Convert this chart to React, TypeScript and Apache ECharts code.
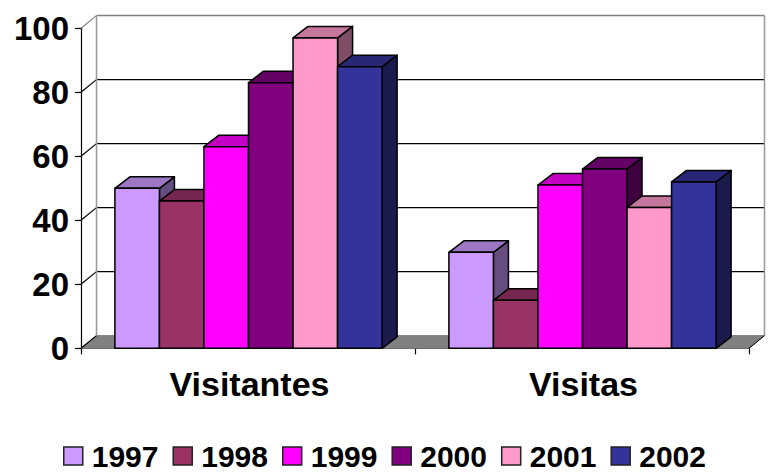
import React, { useEffect, useRef } from "react";
import * as echarts from "echarts";

const categories = ["Visitantes", "Visitas"];
const years = ["1997", "1998", "1999", "2000", "2001", "2002"];
const colors = ["#CC99FF", "#993366", "#FF00FF", "#800080", "#FF99CC", "#333399"];
const v1997 = [50, 30];
const v1998 = [46, 15];
const v1999 = [63, 51];
const v2000 = [83, 56];
const v2001 = [97, 44];
const v2002 = [88, 52];
const seriesValues = [v1997, v1998, v1999, v2000, v2001, v2002];
const yTicks = [0, 20, 40, 60, 80, 100];

const FONT = "'Liberation Sans', Arial, sans-serif";
const WALL_DX = 15.5;
const WALL_DY = 12.7;
const BAR_DX = 15;
const BAR_DY = 11.5;
const GROUP_RATIO = 0.8;

function shade(hex: string, k: number) {
  const n = parseInt(hex.slice(1), 16);
  const r = Math.round(((n >> 16) & 255) * k);
  const g = Math.round(((n >> 8) & 255) * k);
  const b = Math.round((n & 255) * k);
  return `rgb(${r},${g},${b})`;
}

function renderWalls(params: any, api: any) {
  const cs = params.coordSys;
  const xL = cs.x;
  const xR = cs.x + cs.width;
  const children: any[] = [];
  const y0 = api.coord([0, 0])[1];
  children.push({
    type: "polygon",
    shape: {
      points: [
        [xL, y0],
        [xL + WALL_DX, y0 - WALL_DY],
        [xR + WALL_DX, y0 - WALL_DY],
        [xR, y0],
      ],
    },
    style: { fill: "#808080", stroke: "#808080", lineWidth: 1 },
  });
  yTicks.forEach((t) => {
    const y = api.coord([0, t])[1];
    const color = t === 100 ? "#808080" : "#000000";
    if (t > 0) {
      children.push({
        type: "line",
        shape: { x1: xL + WALL_DX, y1: y - WALL_DY, x2: xR + WALL_DX, y2: y - WALL_DY },
        style: { stroke: color, lineWidth: t === 100 ? 1.5 : 1.2 },
      });
    }
    children.push({
      type: "line",
      shape: { x1: xL, y1: y, x2: xL + WALL_DX, y2: y - WALL_DY },
      style: { stroke: color, lineWidth: 1.2 },
    });
  });
  const yTop = api.coord([0, 100])[1] - WALL_DY;
  [xL + WALL_DX, xR + WALL_DX].forEach((x) => {
    children.push({
      type: "line",
      shape: { x1: x, y1: yTop, x2: x, y2: y0 - WALL_DY },
      style: { stroke: "#999999", lineWidth: 1.5 },
    });
  });
  children.push({
    type: "line",
    shape: { x1: xR, y1: y0, x2: xR + WALL_DX, y2: y0 - WALL_DY },
    style: { stroke: "#000000", lineWidth: 1 },
  });
  return { type: "group", children };
}

function makeRenderBar(index: number) {
  return function (params: any, api: any) {
    const cat = api.value(0);
    const val = api.value(1);
    const band = api.size([1, 0])[0];
    const w = (band * GROUP_RATIO) / years.length;
    const [cx, yTop] = api.coord([cat, val]);
    const yBase = api.coord([cat, 0])[1];
    const x = cx - (band * GROUP_RATIO) / 2 + index * w + 0.5;
    const base = colors[index];
    const edge = { stroke: "#000000", lineWidth: 1.5, lineJoin: "round" };
    return {
      type: "group",
      children: [
        {
          type: "polygon",
          shape: {
            points: [
              [x + w, yTop],
              [x + w + BAR_DX, yTop - BAR_DY],
              [x + w + BAR_DX, yBase - BAR_DY],
              [x + w, yBase],
            ],
          },
          style: { fill: shade(base, 0.5), ...edge },
        },
        {
          type: "polygon",
          shape: {
            points: [
              [x, yTop],
              [x + BAR_DX, yTop - BAR_DY],
              [x + w + BAR_DX, yTop - BAR_DY],
              [x + w, yTop],
            ],
          },
          style: { fill: shade(base, 0.77), ...edge },
        },
        {
          type: "rect",
          shape: { x, y: yTop, width: w, height: yBase - yTop },
          style: { fill: base, ...edge },
        },
      ],
    };
  };
}

export default function App() {
  const ref = useRef<HTMLDivElement>(null);
  useEffect(() => {
    const chart = echarts.init(ref.current!, undefined, { renderer: "svg" });
    const barSeries = years.map((year, i) => ({
      type: "custom",
      name: year,
      z: 3 + i,
      itemStyle: { color: colors[i] },
      encode: { x: 0, y: 1 },
      data: categories.map((_, c) => [c, seriesValues[i][c]]),
      renderItem: makeRenderBar(i),
    }));
    chart.setOption({
      animation: false,
      backgroundColor: "#ffffff",
      grid: { left: 81, top: 28.3, width: 668, height: 320, containLabel: false },
      legend: {
        data: years,
        left: 58,
        top: 436,
        itemGap: 14,
        itemWidth: 19,
        itemHeight: 18,
        icon: "rect",
        selectedMode: false,
        itemStyle: { borderColor: "#222222", borderWidth: 1.5 },
        textStyle: {
          fontFamily: FONT,
          fontWeight: "bold",
          fontSize: 30,
          color: "#000000",
          padding: [0, 0, 0, 4],
        },
      },
      xAxis: {
        type: "category",
        data: categories,
        axisLine: { lineStyle: { color: "#000000", width: 1.2 } },
        axisTick: { show: true, length: 6, lineStyle: { color: "#000000", width: 1.2 } },
        axisLabel: {
          fontFamily: FONT,
          fontWeight: "bold",
          fontSize: 34,
          color: "#000000",
          margin: 19,
          padding: [0, 0, 0, 3],
        },
      },
      yAxis: {
        type: "value",
        min: 0,
        max: 100,
        interval: 20,
        splitLine: { show: false },
        axisLine: { show: true, lineStyle: { color: "#000000", width: 1.2 } },
        axisTick: { show: true, length: 6, lineStyle: { color: "#000000", width: 1.2 } },
        axisLabel: {
          fontFamily: FONT,
          fontWeight: "bold",
          fontSize: 33,
          color: "#000000",
          margin: 12,
        },
      },
      series: [
        {
          type: "custom",
          name: "walls",
          z: 1,
          silent: true,
          data: [[0, 0]],
          encode: { x: 0, y: 1 },
          renderItem: renderWalls,
        },
        ...barSeries,
      ],
    });
    return () => chart.dispose();
  }, []);
  return (
    <div
      ref={ref}
      style={{ position: "absolute", left: 0, top: 0, width: 772, height: 474 }}
    />
  );
}
